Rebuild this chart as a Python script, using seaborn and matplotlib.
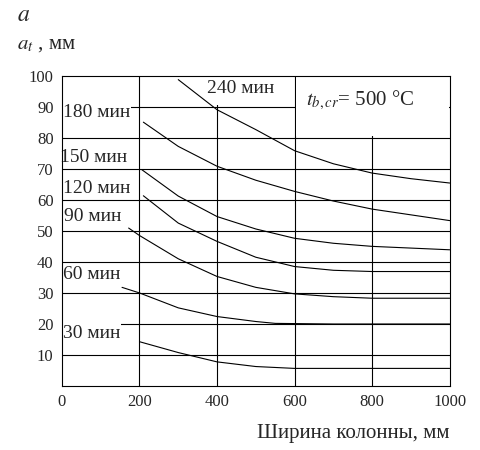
import matplotlib
matplotlib.use("Agg")
import matplotlib.pyplot as plt
from matplotlib.patches import Rectangle
import seaborn as sns
import pandas as pd

sns.set_theme(style="white")
plt.rcParams['font.family'] = ['Liberation Serif', 'DejaVu Serif']
plt.rcParams['mathtext.fontset'] = 'stix'

x30 = [200, 300, 400, 500, 600, 800, 1000]
y30 = [14.3, 10.8, 7.8, 6.3, 5.7, 5.7, 5.7]
x60 = [155, 200, 300, 400, 500, 550, 700, 1000]
y60 = [31.8, 30.0, 25.2, 22.4, 20.8, 20.2, 20.0, 20.0]
x90 = [172, 200, 300, 400, 500, 600, 700, 800, 1000]
y90 = [50.9, 48.5, 41.0, 35.3, 31.8, 29.7, 28.8, 28.3, 28.3]
x120 = [210, 300, 400, 500, 600, 700, 800, 1000]
y120 = [61.3, 52.5, 46.6, 41.5, 38.5, 37.3, 36.9, 36.9]
x150 = [206, 300, 400, 500, 600, 700, 800, 1000]
y150 = [69.7, 61.2, 54.6, 50.6, 47.6, 46.0, 45.0, 43.9]
x180 = [210, 300, 400, 500, 600, 700, 800, 1000]
y180 = [85.0, 77.2, 70.8, 66.3, 62.7, 59.6, 57.0, 53.3]
x240 = [300, 400, 500, 600, 700, 800, 900, 1000]
y240 = [98.7, 89.0, 82.6, 75.8, 71.6, 68.6, 66.8, 65.4]

labels = ["30 мин", "60 мин", "90 мин", "120 мин", "150 мин", "180 мин", "240 мин"]
label_pos = [(2, 17), (2, 36), (5, 54.5), (2, 63.5), (-5, 73.5), (2, 88), (374, 96)]
xticks = [0, 200, 400, 600, 800, 1000]
yticks = [10, 20, 30, 40, 50, 60, 70, 80, 90, 100]

series = [(x30, y30), (x60, y60), (x90, y90), (x120, y120), (x150, y150), (x180, y180), (x240, y240)]
rows = []
for lab, (xs, ys) in zip(labels, series):
    for a, b in zip(xs, ys):
        rows.append({"x": a, "y": b, "s": lab})
df = pd.DataFrame(rows)

fig = plt.figure(figsize=(4.8, 4.5), dpi=100)
ax = fig.add_axes([0.129, 0.142, 0.808, 0.69])
for v in range(10, 100, 10):
    ax.axhline(v, color='black', lw=0.8, zorder=1)
for v in [200, 400, 600, 800]:
    ax.axvline(v, color='black', lw=0.8, zorder=1)
ax.add_patch(Rectangle((203, 90.5), 394, 9.3, facecolor='white', edgecolor='none', zorder=1.5))
ax.add_patch(Rectangle((603, 80.5), 396, 19.3, facecolor='white', edgecolor='none', zorder=1.5))
sns.lineplot(data=df, x="x", y="y", units="s", estimator=None, color='black', lw=0.8, ax=ax, zorder=3)
for lab, (px, py) in zip(labels, label_pos):
    ax.text(px, py, lab, fontsize=14, va='center', ha='left', zorder=2,
            bbox=dict(facecolor='white', edgecolor='none', pad=1.0))
ax.text(630, 92, r"$t_{b,cr}$= 500 °C", fontsize=15, va='center', ha='left', zorder=2)
ax.set_xlim(0, 1000)
ax.set_ylim(0, 100)
ax.set_xticks(xticks)
ax.set_yticks(yticks)
ax.tick_params(labelsize=12, length=0, pad=6)
for s in ax.spines.values():
    s.set_color('black'); s.set_linewidth(0.8)
ax.set_xlabel("Ширина колонны, мм", fontsize=15, loc='right', labelpad=10)
ax.set_ylabel("")
fig.text(0.035, 0.9, r"$a_t$ , мм", fontsize=15, va='center')
fig.text(0.035, 0.965, r"$a$", fontsize=17, va='center')
fig.savefig("out.png", dpi=100)
